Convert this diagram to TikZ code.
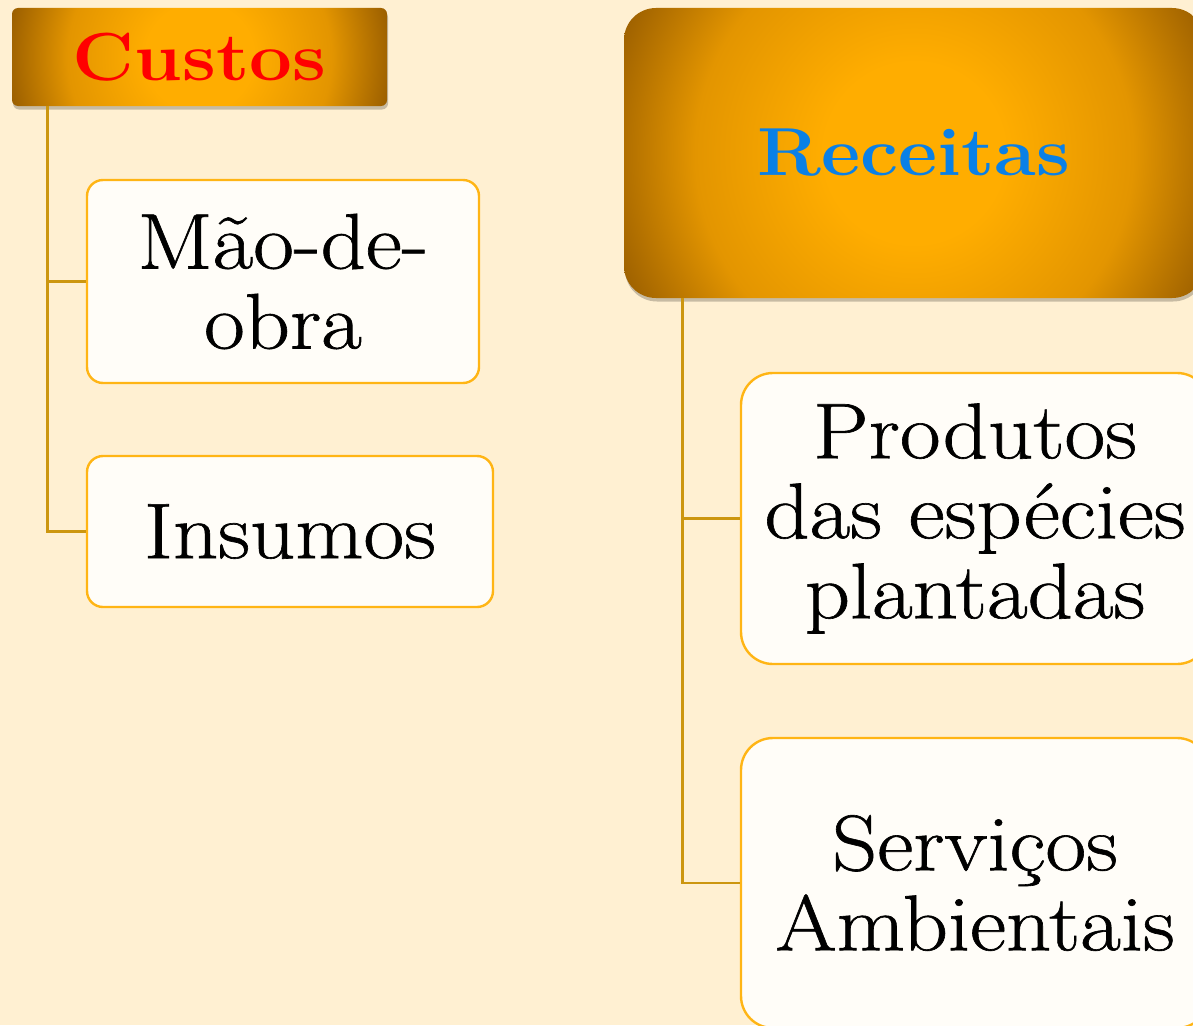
\documentclass[tikz,border=0pt]{standalone}
\usepackage{fontspec}
\setmainfont{Latin Modern Roman}[FakeStretch=1.12, UprightFeatures={FakeBold=0.8}]
\usetikzlibrary{shadows}
\definecolor{bgcol}{HTML}{FFF0D2}
\definecolor{hdrin}{HTML}{FFAD00}
\definecolor{hdrmid}{HTML}{E39500}
\definecolor{hdrout}{HTML}{9A5E00}
\definecolor{conncol}{HTML}{CC960F}
\definecolor{boxline}{HTML}{FFB515}
\definecolor{boxfill}{HTML}{FFFDF8}
\definecolor{custred}{HTML}{FF0000}
\definecolor{recblue}{HTML}{0A80E6}
\pgfdeclareradialshading{hdrshade}{\pgfpoint{0bp}{0bp}}{color(0bp)=(hdrin); color(7bp)=(hdrin); color(17bp)=(hdrmid); color(25bp)=(hdrout); color(50bp)=(hdrout)}
\begin{document}
\begin{tikzpicture}[x=1pt,y=-1pt,
  hdrbox/.style={rectangle, inner sep=0pt, align=center,
    font=\fontsize{68}{70}\selectfont\bfseries,
    drop shadow={shadow xshift=1pt, shadow yshift=-3.5pt, opacity=0.22, fill=black}},
  hdrfill/.style={path picture={\shade[shading=hdrshade] (path picture bounding box.center) circle (#1);}},
  leaf/.style={rectangle, draw=boxline, line width=2.4pt, fill=boxfill, align=center,
    inner sep=0pt, font=\fontsize{79}{80}\selectfont},
  conn/.style={draw=conncol, line width=2.8pt}]
\useasboundingbox (0,0) rectangle (1193,1025);
\fill[bgcol] (0,0) rectangle (1193,1025);

% headers
\node[hdrbox, hdrfill=194pt, minimum width=375pt, minimum height=98pt,
  rounded corners=6pt, text=custred] (custos) at (199.5,57) {Custos};
\node[hdrbox, hdrfill=322pt, minimum width=580pt, minimum height=290pt,
  rounded corners=32pt, text=recblue] (receitas) at (914,153) {Receitas};

% leaves
\node[leaf, minimum width=392pt, minimum height=203pt, rounded corners=16pt]
  (mao) at (283,281.5) {Mão-de-\\obra};
\node[leaf, minimum width=406pt, minimum height=151pt, rounded corners=16pt]
  (insumos) at (290,531.5) {Insumos};
\node[leaf, minimum width=468pt, minimum height=291pt, rounded corners=32pt]
  (produtos) at (975,518.5) {Produtos\\das espécies\\plantadas};
\node[leaf, minimum width=468pt, minimum height=290pt, rounded corners=32pt]
  (servicos) at (975,883) {Serviços\\Ambientais};

% connectors
\draw[conn] ([xshift=36pt]custos.south west) |- (mao.west);
\draw[conn] ([xshift=36pt]custos.south west) |- (insumos.west);
\draw[conn] ([xshift=59pt]receitas.south west) |- (produtos.west);
\draw[conn] ([xshift=59pt]receitas.south west) |- (servicos.west);
\end{tikzpicture}
\end{document}
